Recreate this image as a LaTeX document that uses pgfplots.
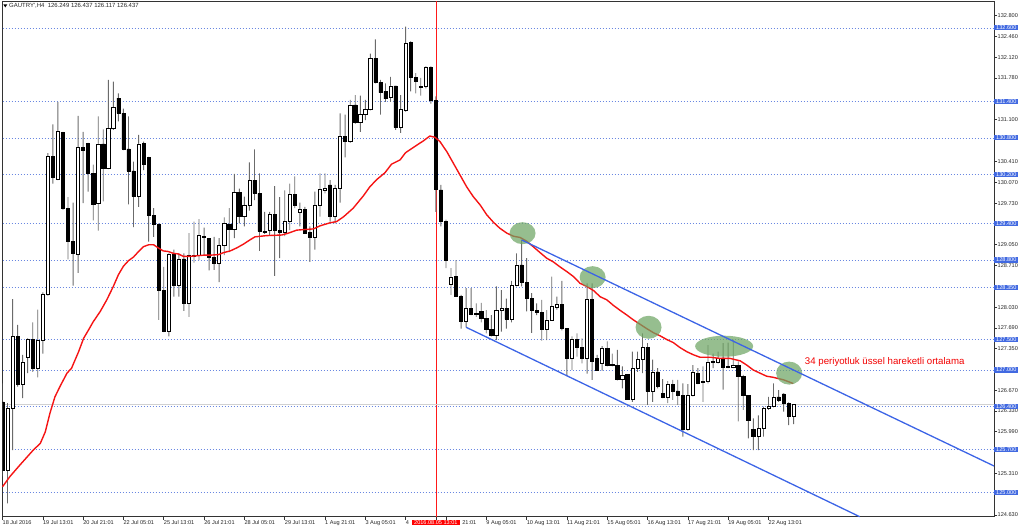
\documentclass[border=0pt]{standalone}
\usepackage{pgfplots}
\pgfplotsset{compat=1.18}
\usepackage{pgfplotstable}
\usepackage{fontspec}
\setmainfont{Liberation Sans}
\definecolor{lvblue}{RGB}{65,105,225}
\definecolor{gridblue}{RGB}{105,135,225}
\definecolor{chanblue}{RGB}{60,100,230}
\definecolor{ellg}{RGB}{110,165,100}
\definecolor{emared}{RGB}{245,20,20}

\pgfplotstableread{
n o h l c
0 126.48 126.78 125.26 125.36
1 125.36 126.46 124.82 126.37
2 126.37 128.16 125.69 127.55
3 127.55 127.74 126.73 126.76
4 126.76 127.25 126.54 127.12
5 127.21 127.52 126.95 127.50
6 127.50 127.78 126.97 127.03
7 127.03 127.99 126.88 127.49
8 127.49 128.27 127.27 128.24
9 128.24 130.55 128.22 130.50
10 130.50 131.02 130.05 130.16
11 130.12 131.39 130.11 130.90
12 130.89 130.90 129.62 129.65
13 129.65 129.83 128.81 129.10
14 129.10 129.74 128.38 128.91
15 128.90 131.16 128.59 130.65
16 130.65 130.90 129.73 130.60
17 130.71 130.72 129.92 130.22
18 130.22 130.36 129.45 129.72
19 129.73 131.15 129.28 130.70
20 130.70 130.94 129.76 130.30
21 130.30 131.75 130.29 130.96
22 130.96 131.72 130.93 131.30
23 131.45 131.53 131.07 131.20
24 131.20 131.28 130.60 130.62
25 130.62 131.15 129.71 130.26
26 130.26 130.41 129.34 129.84
27 129.84 130.85 129.67 130.70
28 130.71 130.74 130.27 130.36
29 130.48 130.49 129.10 129.53
30 129.53 129.65 129.18 129.39
31 129.39 129.40 127.82 128.30
32 128.30 128.69 127.62 127.63
33 127.63 128.91 127.55 128.89
34 128.89 128.97 128.20 128.39
35 128.39 128.91 128.20 128.82
36 128.82 128.91 127.97 128.10
37 128.10 129.24 127.87 128.88
38 128.88 129.43 128.76 128.86
39 128.87 129.47 128.80 129.20
40 129.19 129.33 128.88 129.17
41 129.16 129.16 128.63 128.85
42 128.85 129.18 128.64 128.75
43 128.75 129.16 128.44 129.04
44 129.04 129.50 128.88 129.40
45 129.39 129.65 128.93 129.30
46 129.30 130.21 129.16 129.91
47 129.91 129.97 129.40 129.51
48 129.51 129.84 129.35 129.69
49 129.69 130.40 129.61 130.11
50 130.11 130.61 129.78 129.89
51 129.89 130.22 128.95 129.27
52 129.27 129.59 129.23 129.25
53 129.29 129.59 129.21 129.55
54 129.55 130.01 128.54 129.28
55 129.28 129.83 128.83 129.26
56 129.26 129.94 129.19 129.43
57 129.43 130.05 129.29 129.88
58 129.88 130.17 129.65 129.69
59 129.58 129.74 129.35 129.63
60 129.63 129.67 129.23 129.24
61 129.25 129.35 128.77 129.18
62 129.18 129.92 128.97 129.69
63 129.69 130.22 129.51 129.95
64 129.94 130.22 129.89 129.97
65 130.03 130.11 129.43 129.51
66 129.51 130.03 129.40 129.97
67 129.97 131.20 129.74 130.83
68 130.83 131.18 130.48 130.74
69 130.74 131.42 130.72 131.34
70 131.34 131.50 131.03 131.05
71 131.05 131.49 130.90 131.19
72 131.19 131.42 131.09 131.27
73 131.27 132.18 131.25 132.10
74 132.10 132.41 131.69 131.71
75 131.71 131.75 131.18 131.54
76 131.56 131.69 131.39 131.44
77 131.47 131.80 131.39 131.65
78 131.65 131.65 130.93 130.97
79 130.97 131.50 130.88 131.26
80 131.25 132.62 131.23 132.35
81 132.36 132.38 131.56 131.79
82 131.79 131.86 131.53 131.72
83 131.64 131.78 131.49 131.63
84 131.64 131.97 131.61 131.95
85 131.95 131.97 131.36 131.41
86 131.41 131.48 129.59 129.95
87 129.95 130.03 129.35 129.43
88 129.43 129.46 128.67 128.80
89 128.40 128.67 128.23 128.52
90 128.53 128.80 128.20 128.21
91 128.21 128.23 127.68 127.80
92 127.80 128.34 127.70 128.01
93 128.01 128.34 127.90 127.92
94 127.93 128.09 127.87 127.91
95 127.96 128.10 127.78 127.85
96 127.85 127.98 127.60 127.66
97 127.66 127.90 127.55 127.57
98 127.57 128.37 127.49 127.98
99 127.98 128.31 127.63 128.01
100 128.01 128.17 127.68 127.83
101 127.83 128.46 127.78 128.39
102 128.39 128.91 128.37 128.72
103 128.72 129.13 128.37 128.44
104 128.44 128.83 127.96 128.17
105 128.17 128.26 127.61 127.97
106 127.97 128.09 127.90 127.95
107 127.95 128.15 127.48 127.66
108 127.66 127.98 127.49 127.82
109 127.82 128.53 127.81 128.04
110 128.03 128.20 127.99 128.07
111 128.07 128.46 127.65 127.68
112 127.68 127.68 126.90 127.19
113 127.19 127.55 127.00 127.50
114 127.50 127.60 127.22 127.37
115 127.37 127.52 127.11 127.19
116 127.19 128.42 126.94 128.16
117 128.16 128.42 126.84 127.15
118 127.19 127.25 126.99 127.00
119 127.11 127.39 126.99 127.36
120 127.36 127.47 127.06 127.08
121 127.09 127.27 127.06 127.07
122 127.07 127.33 126.83 126.85
123 126.85 127.06 126.70 126.92
124 126.93 126.93 126.51 126.52
125 126.52 127.30 126.48 127.03
126 127.03 127.30 126.97 127.17
127 127.17 127.60 126.95 127.37
128 127.37 127.44 126.43 126.65
129 126.65 127.17 126.48 126.97
130 126.97 127.03 126.70 126.73
131 126.62 126.85 126.54 126.56
132 126.56 126.82 126.46 126.76
133 126.77 126.84 126.51 126.66
134 126.66 126.84 126.43 126.59
135 126.59 126.78 125.91 126.03
136 126.03 126.77 126.01 126.58
137 126.58 127.08 126.57 126.96
138 126.95 127.03 126.77 126.79
139 126.80 127.06 126.48 126.82
140 126.81 127.41 126.78 127.12
141 127.12 127.27 127.03 127.14
142 127.12 127.30 127.11 127.20
143 127.20 127.44 126.68 127.04
144 127.04 127.45 127.03 127.06
145 127.04 127.50 127.03 127.08
146 127.08 127.14 126.16 126.89
147 126.89 126.92 126.35 126.59
148 126.59 126.59 125.88 126.18
149 126.03 126.21 125.69 125.92
150 125.92 126.26 125.69 126.05
151 126.05 126.40 125.91 126.37
152 126.37 126.56 126.35 126.40
153 126.40 126.78 126.39 126.55
154 126.56 126.67 126.48 126.51
155 126.61 126.62 126.32 126.46
156 126.46 126.47 126.10 126.25
157 126.249 126.437 126.117 126.437
}\candles

\pgfplotstableread{
n v
0 125.09
1.5 125.26
3.5 125.45
6.1 125.69
7.5 125.80
8.5 125.99
9.4 126.29
10.4 126.56
11.4 126.73
12.8 126.95
13.7 127.03
15.1 127.30
16.1 127.52
17.1 127.66
18.0 127.79
19.4 127.96
20.7 128.15
22.0 128.37
23.0 128.56
24.0 128.70
25.0 128.79
26.0 128.85
27.0 128.94
28.0 129.02
29.0 129.05
30.0 129.05
30.9 129.00
31.9 128.95
32.9 128.94
33.9 128.91
34.9 128.90
35.9 128.86
37.2 128.86
38.5 128.87
39.9 128.88
41.2 128.88
42.9 128.89
43.8 128.92
45.2 128.95
46.5 129.00
47.8 129.06
49.1 129.13
50.1 129.18
52.4 129.20
55.4 129.21
56.7 129.24
58.4 129.29
60.0 129.30
61.7 129.31
63.0 129.36
65.0 129.41
66.3 129.43
67.7 129.51
69.6 129.65
71.6 129.85
72.9 130.00
74.3 130.12
75.9 130.23
77.2 130.37
78.9 130.44
79.9 130.55
80.2 130.57
82.2 130.68
83.5 130.75
84.8 130.83
85.8 130.81
86.8 130.74
88.2 130.57
89.5 130.38
90.8 130.19
92.1 130.00
93.4 129.84
94.8 129.70
96.1 129.54
97.4 129.42
98.7 129.32
100.1 129.24
101.4 129.19
102.7 129.17
104.0 129.11
105.3 129.02
106.7 128.92
108.0 128.83
109.3 128.77
110.6 128.69
112.0 128.61
113.3 128.53
114.6 128.42
115.9 128.37
117.3 128.30
118.6 128.20
119.9 128.15
121.2 128.06
122.5 127.98
123.9 127.90
125.2 127.82
126.5 127.75
127.8 127.68
129.2 127.61
130.5 127.56
131.8 127.50
133.1 127.45
134.4 127.37
135.8 127.30
137.1 127.25
138.4 127.21
140.4 127.21
142.4 127.19
144.4 127.19
146.4 127.15
147.7 127.08
149.0 127.00
150.3 126.95
151.6 126.90
153.0 126.88
155.0 126.84
156.9 126.78
}\ema

\pgfplotsset{base/.style={at={(2.5bp,13.3bp)}, anchor=south west, scale only axis,
  width=991.5bp, height=515.7bp, xmin=0, xmax=196.75, ymin=124.60, ymax=133.04}}

\begin{document}
\begin{tikzpicture}
\useasboundingbox (0,0) rectangle (1024bp,530bp);
% background axis: frame, ticks, level lines
\begin{axis}[base,
  axis line style={draw=black!80, line width=0.7bp},
  tick align=outside, major tick length=3bp,
  tick style={draw=black!80, line width=0.6bp},
  xtick pos=left, ytick pos=right, yticklabel pos=right,
  tick label style={font=\fontsize{5.6}{6}\selectfont, text=black!85},
  /pgf/number format/fixed, /pgf/number format/fixed zerofill,
  /pgf/number format/precision=3, /pgf/number format/1000 sep={},
  /pgf/number format/assume math mode=true,
  xtick={0,8,...,152},
  xticklabels={18 Jul 2016, 19 Jul 13:01, 20 Jul 21:01, 22 Jul 05:01, 25 Jul 13:01, 26 Jul 21:01, 28 Jul 05:01, 29 Jul 13:01, 1 Aug 21:01, 3 Aug 05:01, 4, {\phantom{5 Aug }21:01}, 9 Aug 05:01, 10 Aug 13:01, 11 Aug 21:01, 15 Aug 05:01, 16 Aug 13:01, 17 Aug 21:01, 19 Aug 05:01, 22 Aug 13:01},
  xticklabel style={anchor=north west, inner sep=0.5bp, xshift=-0.5bp},
  ytick={132.8,132.46,132.12,131.78,131.1,130.41,130.07,129.73,129.05,128.71,128.03,127.69,127.35,126.67,126.33,125.99,125.31,124.63},
  yticklabel style={anchor=west, inner sep=0.5bp},
  extra y ticks={132.6,131.4,130.8,130.2,129.4,128.8,128.35,127.5,127,126.4,125.7,125},
  extra y tick style={grid=major, major grid style={draw=gridblue, line width=0.6bp, dash pattern=on 1.2bp off 1.8bp},
     yticklabel style={fill=lvblue, text=white, inner xsep=2bp, inner ysep=0.6bp, xshift=-3bp}},
  extra x ticks={86.1},
  extra x tick labels={2016.08.05 13:01},
  extra x tick style={grid=major, major grid style={draw=red!90, line width=0.7bp, solid},
     xticklabel style={fill=red, text=white, anchor=north, inner xsep=2bp, inner ysep=0.8bp, xshift=0bp}},
]
\addplot[draw=black!18, line width=0.7bp] coordinates {(0,126.437) (196.75,126.437)};
\end{axis}
% wicks
\begin{axis}[base, hide axis, ybar stacked, bar width=0.9bp]
\addplot[draw=none, fill=none] table[x=n, y=l] \candles;
\addplot[draw=none, fill=black!58] table[x=n, y expr={\thisrow{h}-\thisrow{l}}] \candles;
\end{axis}
% bodies
\begin{axis}[base, hide axis, ybar stacked, bar width=3.2bp]
\addplot[draw=none, fill=none] table[x=n, y expr={min(\thisrow{o},\thisrow{c})}] \candles;
\addplot[draw=black, fill=white, line width=0.6bp] table[x=n, y expr={max(\thisrow{c}-\thisrow{o},0)}] \candles;
\addplot[draw=black, fill=black, line width=0.6bp] table[x=n, y expr={max(\thisrow{o}-\thisrow{c},0)}] \candles;
\end{axis}
% overlay: EMA, channel, annotations
\begin{axis}[base, hide axis, clip=false]
\addplot[emared, line width=1.4bp] table[x=n, y=v] \ema;
\fill[ellg, opacity=0.72] (axis cs:103.2,129.24) ellipse [x radius=13bp, y radius=11bp];
\fill[ellg, opacity=0.72] (axis cs:117.1,128.52) ellipse [x radius=13bp, y radius=11bp];
\fill[ellg, opacity=0.72] (axis cs:128.2,127.70) ellipse [x radius=13bp, y radius=11.5bp];
\fill[ellg, opacity=0.72] (axis cs:143.2,127.39) ellipse [x radius=29bp, y radius=10.5bp];
\fill[ellg, opacity=0.72] (axis cs:156.1,126.95) ellipse [x radius=13bp, y radius=11.5bp];
\addplot[chanblue, line width=1.3bp] coordinates {(103.0,129.13) (196.75,125.43)};
\addplot[chanblue, line width=1.3bp] coordinates {(92.0,127.70) (170.1,124.60)};
\node[anchor=west, inner sep=0pt, text=red!95!black, font=\fontsize{9.7}{11}\selectfont] at (axis cs:159.2,127.13) {34 periyotluk üssel hareketli ortalama};
\end{axis}
% title
\fill[black] (3.3bp,525.6bp) -- (7.3bp,525.6bp) -- (5.3bp,522.6bp) -- cycle;
\node[anchor=west, inner sep=0pt, font=\fontsize{6}{7}\selectfont, text=black!85] at (9bp,524bp) {GAUTRY\textquotesingle,H4\ \ 126.249 126.437 126.117 126.437};
\end{tikzpicture}
\end{document}
